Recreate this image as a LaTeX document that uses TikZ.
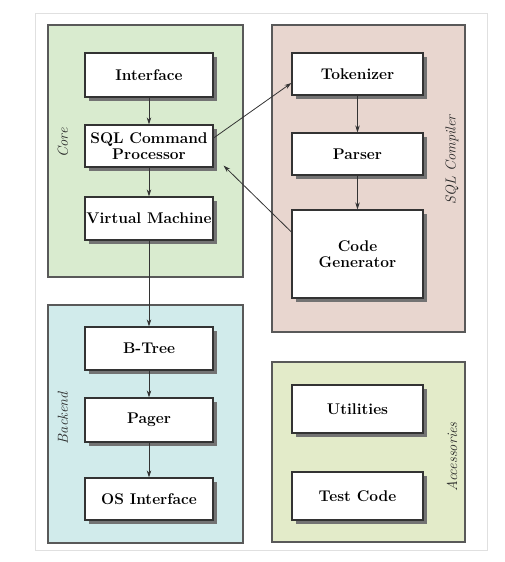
\documentclass[tikz,border=0pt]{standalone}
\usepackage{tikz}
\usetikzlibrary{arrows.meta}
\usetikzlibrary{shadows}
\usetikzlibrary{positioning}
\tikzset{module/.style = {draw=black!80, line width=1.2pt, fill=white,
                          minimum width=128pt, inner sep=1pt, align=center,
                          font=\fontsize{15.5}{16}\selectfont\bfseries,
                          drop shadow={shadow xshift=4pt, shadow yshift=-4pt,
                                       fill=black!55, opacity=1}},
         layer/.style = {draw=black!65, line width=1.6pt},
         tag/.style = {rotate=90, font=\fontsize{14.5}{15}\selectfont\itshape, text=black!85},
         flow/.style = {draw=black!80, line width=0.8pt,
                        -{Stealth[length=7pt, width=4.5pt]}}}
\definecolor{mcore}{rgb}{0.85, 0.92, 0.81}
\definecolor{mcomp}{rgb}{0.91, 0.84, 0.81}
\definecolor{mback}{rgb}{0.82, 0.92, 0.92}
\definecolor{macc}{rgb}{0.89, 0.92, 0.79}
\begin{document}
\begin{tikzpicture}[x=1pt, y=-1pt]
    \useasboundingbox (0, 0) rectangle (505, 562);
    \draw [black!12, line width=1pt] (35, 13) rectangle (487, 550);

    % the four layers
    \draw [layer, fill=mcore] (48, 25) rectangle (243, 277);
    \draw [layer, fill=mcomp] (272, 25) rectangle (465, 332);
    \draw [layer, fill=mback] (48, 305) rectangle (243, 543);
    \draw [layer, fill=macc] (272, 362) rectangle (465, 542);

    \node [tag] (coretag) at (63, 143) {Core};
    \node [tag] (backtag) at (63, 418) {Backend};
    \node [tag] (comptag) at (452, 160) {SQL Compiler};
    \node [tag] (acctag) at (452, 457) {Accessories};

    % modules
    \node [module, minimum height=44pt] (iface) at (149, 75) {Interface};
    \node [module, minimum height=42pt] (sqlp) at (149, 146) {SQL Command\\Processor};
    \node [module, minimum height=43pt] (vm) at (149, 218.5) {Virtual Machine};
    \node [module, minimum height=43pt] (btree) at (149, 348.5) {B-Tree};
    \node [module, minimum height=44pt] (pager) at (149, 420) {Pager};
    \node [module, minimum height=42pt] (osif) at (149, 499) {OS Interface};

    \node [module, minimum width=131pt, minimum height=42pt] (tok) at (357.5, 74) {Tokenizer};
    \node [module, minimum width=131pt, minimum height=42pt] (parser) at (357.5, 154) {Parser};
    \node [module, minimum width=131pt, minimum height=88pt] (codegen) at (357.5, 254) {Code\\Generator};
    \node [module, minimum width=131pt, minimum height=48pt] (util) at (357.5, 409) {Utilities};
    \node [module, minimum width=131pt, minimum height=48pt] (test) at (357.5, 496) {Test Code};

    \draw [flow] (iface) -- (sqlp);
    \draw [flow] (sqlp) -- (vm);
    \draw [flow] (vm) -- (btree);
    \draw [flow] (btree) -- (pager);
    \draw [flow] (pager) -- (osif);
    \draw [flow] (tok) -- (parser);
    \draw [flow] (parser) -- (codegen);

    \draw [flow] ([yshift=8pt]sqlp.east) -- ([yshift=-9pt]tok.west);
    \draw [flow] ([yshift=22pt]codegen.west) -- ([xshift=10pt, yshift=2pt]sqlp.south east);
  \end{tikzpicture}
\end{document}
